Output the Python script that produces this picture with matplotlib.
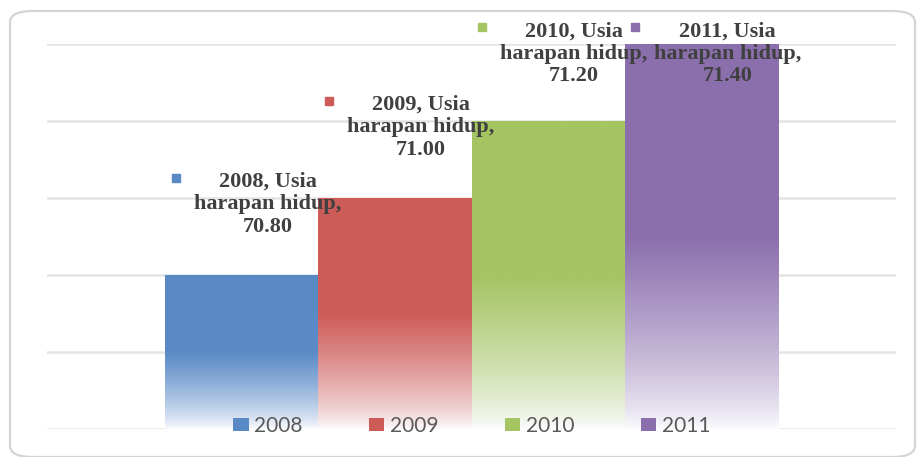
import numpy as np
import matplotlib
matplotlib.use("Agg")
import matplotlib.pyplot as plt
from matplotlib.colors import to_rgb
from matplotlib.patches import FancyBboxPatch, Patch
from matplotlib.transforms import ScaledTranslation

# life expectancy per year
years = ["2008", "2009", "2010", "2011"]
usia_harapan_hidup = [70.80, 71.00, 71.20, 71.40]
series_name = "Usia harapan hidup"
colors = ["#5a8ac6", "#cd5b57", "#a5c462", "#8b6fad"]

y_min, y_max, y_step = 70.4, 71.4, 0.2


def gradient_img(color, n=256):
    # solid on the upper half, fading to white toward the base
    c = np.array(to_rgb(color))
    t = np.linspace(0, 1, n)[:, None]
    s = np.clip(t / 0.5, 0, 1) ** 0.75
    rgb = (1 - s) * np.array([0.99, 0.99, 1.0]) + s * c
    return rgb[:, None, :]


fig = plt.figure(figsize=(9.19, 4.57), dpi=100)
W, H = 919, 457
ax = fig.add_axes([47 / W, 1 - 429 / H, (896 - 47) / W, (429 - 44) / H])

# rounded frame around the chart
frame = FancyBboxPatch((10 / W, 0 / H), (905 / W), (446 / H),
                       boxstyle="round,pad=0,rounding_size=0.025",
                       transform=fig.transFigure, fill=False,
                       edgecolor="#d4d4d4", linewidth=1.6, zorder=0)
fig.patches.append(frame)

x = np.arange(len(years))
bars = ax.bar(x, [v - y_min for v in usia_harapan_hidup], bottom=y_min,
              width=1.0, color="none", edgecolor="none", zorder=2)

for b, col in zip(bars, colors):
    x0, y0 = b.get_x(), b.get_y()
    im = ax.imshow(gradient_img(col), origin="lower", aspect="auto",
                   extent=[x0, x0 + b.get_width(), y0, y0 + b.get_height()],
                   zorder=2, interpolation="bilinear")
    im.set_clip_path(b)

ax.set_xlim(-1.27, 4.27)
ax.set_ylim(y_min, y_max)
ax.set_yticks(np.arange(y_min, y_max + 0.01, y_step))
ax.yaxis.grid(True, color="#e4e4e4", linewidth=1.8)
ax.set_axisbelow(True)
ax.tick_params(left=False, bottom=False, labelleft=False, labelbottom=False)
for sp in ax.spines.values():
    sp.set_visible(False)

# data labels with a small series key in front; keep them inside the figure
for i, (yr, v, col) in enumerate(zip(years, usia_harapan_hidup, colors)):
    ly = min(v + 0.1, y_max - 0.11)
    lx = i + 0.17
    words = series_name.split(" ")
    txt = f"{yr}, {words[0]}\n{' '.join(words[1:])},\n{v:.2f}"
    ax.text(lx, ly, txt, ha="center", va="bottom", fontsize=16,
            fontweight="bold", family="Liberation Serif", color="#404040",
            linespacing=1.17, zorder=5)
    ax.plot([lx], [ly], marker="s", markersize=6, color=col, linestyle="none",
            transform=ax.transData + ScaledTranslation(-92 / 100, 59 / 100,
                                                       fig.dpi_scale_trans),
            clip_on=False, zorder=5)

handles = [Patch(facecolor=c, edgecolor="none") for c in colors]
ax.legend(handles, years, loc="lower center", bbox_to_anchor=(0.5, -0.045),
          ncol=4, frameon=False, prop={"family": "Lato", "size": 15},
          labelcolor="#595959", handlelength=0.75, handleheight=0.6,
          handletextpad=0.25, columnspacing=3.2, borderpad=0)

fig.savefig("out.png", dpi=100)
